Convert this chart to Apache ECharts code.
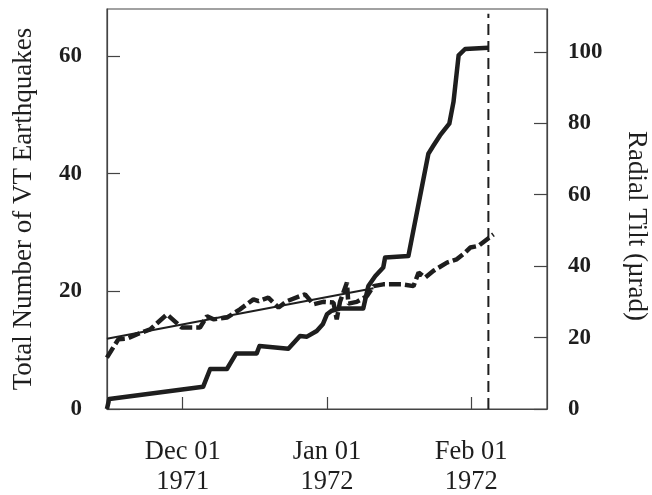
<!DOCTYPE html>
<html>
<head>
<meta charset="utf-8">
<script src="https://cdn.jsdelivr.net/npm/echarts@6/dist/echarts.min.js"></script>
<style>html,body{margin:0;padding:0;background:#fff;}#c{width:652px;height:495px;}</style>
</head>
<body>
<div id="c"></div>
<script>
// Days are counted from 1971-12-01 (UTC)
var quakeDays  = [-16.3, -15.8, 4.4, 5.9, 9.5, 11.5, 15.9, 16.5, 22.7, 25.2, 26.7, 28.8, 30.1, 31.0, 32.0, 33.8, 38.8, 39.9, 41.4, 43.1, 43.5, 48.5, 52.8, 53.9, 55.3, 57.3, 58.2, 59.3, 60.7, 65.7];
var quakeCount = [0, 1.7, 3.8, 6.8, 6.8, 9.45, 9.45, 10.7, 10.25, 12.4, 12.3, 13.25, 14.4, 16.1, 16.7, 17.07, 17.07, 20.9, 22.6, 24.05, 25.75, 26.0, 43.4, 44.8, 46.5, 48.5, 52.2, 60.1, 61.2, 61.4];

var tiltDays  = [-16.3, -13.85, -12.0, -9.9, -7.0, -3.4, -0.2, 3.7, 5.2, 6.6, 9.5, 12.3, 15.2, 16.3, 18.4, 20.6, 22.4, 25.2, 26.3, 28.1, 30.2, 32.4, 33.1, 33.8, 35.3, 35.6, 37.4, 39.6, 41.0, 43.1, 47.1, 49.6, 50.7, 52.1, 53.9, 56.8, 58.9, 60.7, 61.8, 63.6, 66.8];
var tiltValue = [14.4, 19.5, 19.7, 20.9, 22.3, 26.5, 22.8, 22.8, 26.0, 25.1, 25.6, 27.9, 30.7, 30.2, 31.2, 28.4, 30.2, 31.6, 32.1, 29.3, 30.0, 29.8, 25.1, 30.0, 35.4, 29.5, 30.0, 31.6, 34.4, 34.9, 34.9, 34.4, 38.2, 36.8, 38.7, 41.0, 41.9, 43.8, 45.2, 45.7, 48.9];

var trendDays  = [-16.3, 41.0];
var trendValue = [19.7, 33.8];

var eventDay = 65.7;
var eventRange = [0, 67.2];

var tickDates  = ['1971-12-01', '1972-01-01', '1972-02-01'];
var tickLabels = ['Dec 01\n1971', 'Jan 01\n1972', 'Feb 01\n1972'];

var xMinDay = -16.28, xMaxDay = 78.3;

var BASE = Date.UTC(1971, 11, 1);
var DAY = 86400000;
function pairs(ds, vs) { return ds.map(function (d, i) { return [d, vs[i]]; }); }
var tickDays = tickDates.map(function (s) { return Math.round((Date.parse(s + 'T00:00:00Z') - BASE) / DAY); });

var FONT = '"Liberation Serif", "Times New Roman", serif';
var INK = '#1e1e1e';
var AX = '#444';

var chart = echarts.init(document.getElementById('c'), null, { renderer: 'canvas' });
chart.setOption({
  animation: false,
  backgroundColor: '#fff',
  grid: { left: 107, right: 105, top: 9, bottom: 86, show: true, borderColor: AX, borderWidth: 1.2, containLabel: false, outerBoundsMode: 'none' },
  xAxis: {
    type: 'value',
    min: xMinDay, max: xMaxDay,
    axisLine: { show: true, onZero: false, lineStyle: { color: AX, width: 1.2 } },
    axisTick: { show: true, inside: true, length: 12, customValues: tickDays, lineStyle: { color: AX, width: 1.2 } },
    axisLabel: {
      customValues: tickDays,
      margin: 28,
      fontFamily: FONT, fontSize: 26.5, color: INK, lineHeight: 30,
      formatter: function (v) {
        var i = tickDays.indexOf(Math.round(v));
        return i >= 0 ? tickLabels[i] : '';
      }
    },
    splitLine: { show: false }
  },
  yAxis: [
    {
      type: 'value', min: 0, max: 68, interval: 20, position: 'left',
      name: 'Total Number of VT Earthquakes', nameLocation: 'middle', nameGap: 70, nameRotate: 90,
      nameTextStyle: { fontFamily: FONT, fontSize: 27, color: INK },
      axisLine: { show: true, onZero: false, lineStyle: { color: AX, width: 1.2 } },
      axisTick: { show: true, inside: true, length: 13, lineStyle: { color: AX, width: 1.2 } },
      axisLabel: { margin: 25, showMaxLabel: false, fontFamily: FONT, fontSize: 23, fontWeight: 'bold', color: INK },
      splitLine: { show: false }
    },
    {
      type: 'value', min: 0, max: 112, interval: 20, position: 'right',
      axisLine: { show: true, onZero: false, lineStyle: { color: AX, width: 1.2 } },
      axisTick: { show: true, inside: true, length: 13, lineStyle: { color: AX, width: 1.2 } },
      axisLabel: { margin: 21, showMaxLabel: false, fontFamily: FONT, fontSize: 23, fontWeight: 'bold', color: INK },
      splitLine: { show: false }
    }
  ],
  graphic: [{
    type: 'text', x: 636, y: 226, rotation: -Math.PI / 2,
    style: { text: 'Radial Tilt (\u00b5rad)', font: '27px ' + FONT, fill: INK, textAlign: 'center', textVerticalAlign: 'middle' }
  }],
  series: [
    {
      name: 'VT earthquakes', type: 'line', yAxisIndex: 0, showSymbol: false,
      data: pairs(quakeDays, quakeCount),
      lineStyle: { color: INK, width: 4.5, join: 'round' }
    },
    {
      name: 'Radial tilt', type: 'line', yAxisIndex: 1, showSymbol: false,
      data: pairs(tiltDays, tiltValue),
      lineStyle: { color: INK, width: 4.5, type: [12, 4] }
    },
    {
      name: 'Tilt trend', type: 'line', yAxisIndex: 1, showSymbol: false,
      data: pairs(trendDays, trendValue),
      lineStyle: { color: INK, width: 2 }
    },
    {
      name: 'Event', type: 'line', yAxisIndex: 0, showSymbol: false,
      data: [[eventDay, eventRange[0]], [eventDay, eventRange[1]]],
      lineStyle: { color: INK, width: 2, type: [11, 6] }
    }
  ]
});
</script>
</body>
</html>
